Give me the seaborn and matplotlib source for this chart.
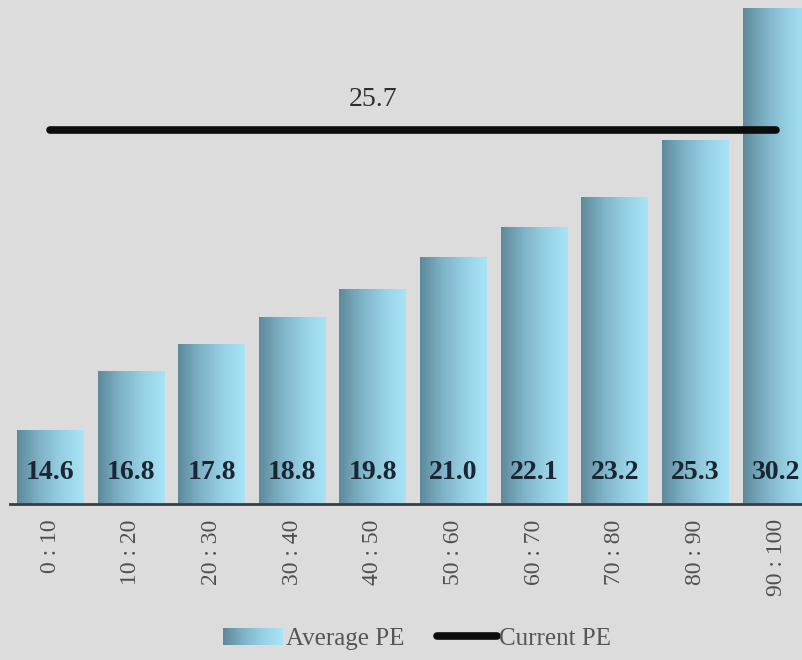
import numpy as np
import pandas as pd
import matplotlib
matplotlib.use("Agg")
import matplotlib.pyplot as plt
import seaborn as sns
from matplotlib.colors import LinearSegmentedColormap
from matplotlib.legend_handler import HandlerBase
from matplotlib.patches import Rectangle
from matplotlib.lines import Line2D

# Percentile buckets and their average PE ratios
deciles = ["0 : 10", "10 : 20", "20 : 30", "30 : 40", "40 : 50",
           "50 : 60", "60 : 70", "70 : 80", "80 : 90", "90 : 100"]
avg_pe = [14.6, 16.8, 17.8, 18.8, 19.8, 21.0, 22.1, 23.2, 25.3, 30.2]
current_pe = 25.7
legend_labels = ["Average PE", "Current PE"]

sns.set_theme(style="white")
plt.rcParams["font.family"] = ["Liberation Serif", "DejaVu Serif"]

BG = "#dcdcdc"
fig = plt.figure(figsize=(8.02, 6.60), dpi=100, facecolor=BG)
ax = fig.add_axes([10 / 802, 156 / 660, 792 / 802, 504 / 660])
ax.set_facecolor(BG)

df = pd.DataFrame({"decile": deciles, "pe": avg_pe})
sns.barplot(data=df, x="decile", y="pe", ax=ax, width=0.83,
            color="#7fb8cc", saturation=1, zorder=2)

ymin = 11.9

# Horizontal teal gradient fill for each bar
cmap = LinearSegmentedColormap.from_list(
    "teal", ["#5d8a9b", "#7fb2c6", "#97d0e4", "#a8e4f6"])
grad = np.linspace(0, 1, 256).reshape(1, -1)
for p in list(ax.patches):
    x0 = p.get_x()
    w, h = p.get_width(), p.get_height()
    p.set_facecolor("none")
    p.set_edgecolor("none")
    ax.imshow(grad, cmap=cmap, aspect="auto",
              extent=[x0, x0 + w, ymin, h],
              zorder=2, interpolation="bilinear")

# Current PE reference line
ax.plot(np.arange(len(deciles)), [current_pe] * len(deciles),
        color="#0d0d0d", lw=5.5, solid_capstyle="round", zorder=4)
ax.annotate(f"{current_pe:.1f}", xy=(4, current_pe), xytext=(0, 22),
            textcoords="offset points", ha="center", va="center",
            fontsize=20, color="#2e2e2e")

ax.set_xlim(-0.5, 9.32)
ax.set_ylim(ymin, 30.5)
ax.set_aspect("auto")

# Value labels near the foot of each bar
for i, v in enumerate(avg_pe):
    ax.annotate(f"{v:.1f}", xy=(i, ymin), xytext=(0, 23),
                textcoords="offset points", ha="center", va="center",
                fontsize=20, fontweight="bold", color="#1a2634", zorder=5)

ax.set_xlabel("")
ax.set_ylabel("")
ax.set_yticks([])
ax.set_xticks(range(len(deciles)))
ax.set_xticklabels(deciles, rotation=90, va="top", ha="center")
ax.tick_params(axis="x", length=0, pad=11, labelsize=17, labelcolor="#505050")

for side in ["left", "right", "top"]:
    ax.spines[side].set_visible(False)
ax.spines["bottom"].set_color("#3c3c3c")
ax.spines["bottom"].set_linewidth(2)
ax.spines["bottom"].set_zorder(6)


class GradientHandler(HandlerBase):
    def create_artists(self, legend, orig_handle, xdescent, ydescent,
                       width, height, fontsize, trans):
        n = 40
        arts = []
        for k in range(n):
            arts.append(Rectangle((-xdescent + width * k / n, -ydescent),
                                  width / n * 1.1, height,
                                  facecolor=cmap(k / (n - 1)),
                                  edgecolor="none", transform=trans))
        return arts


bar_proxy = Rectangle((0, 0), 1, 1)
line_proxy = Line2D([0], [0], color="#0d0d0d", lw=5.5, solid_capstyle="round")
leg = fig.legend([bar_proxy, line_proxy], legend_labels,
                 handler_map={Rectangle: GradientHandler()},
                 loc="center", bbox_to_anchor=(0.52, 0.032), ncol=2,
                 frameon=False, fontsize=18, handlelength=2.4,
                 handletextpad=0.1, columnspacing=1.3)
for t in leg.get_texts():
    t.set_color("#555555")

fig.savefig("out.png", dpi=100, facecolor=BG)
